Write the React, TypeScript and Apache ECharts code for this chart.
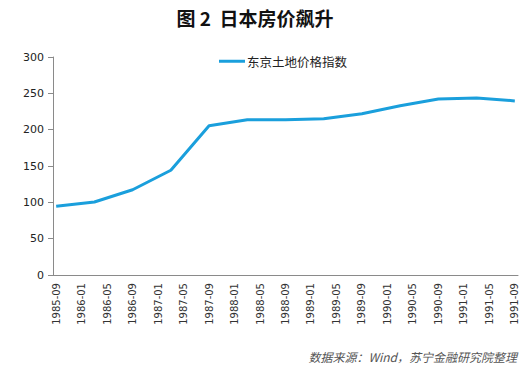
import React, { useEffect, useRef } from "react";
import * as echarts from "echarts";

const startMonth = "1985-09";
const endMonth = "1991-09";
const pointDates = [
  "1985-09", "1986-03", "1986-09", "1987-03", "1987-09", "1988-03", "1988-09",
  "1989-03", "1989-09", "1990-03", "1990-09", "1991-03", "1991-09",
];
const pointValues = [94.5, 100.5, 117.3, 144.1, 205.5, 213.7, 213.7, 215, 221.9, 232.8, 242.3, 243.7, 239.6];
const seriesName = "东京土地价格指数";
const titleText = "图 2\u00a0\u00a0日本房价飙升";
const sourceText = "数据来源：Wind，苏宁金融研究院整理";

function buildMonths(start: string, end: string): string[] {
  const out: string[] = [];
  let [y, m] = start.split("-").map(Number);
  const [ey, em] = end.split("-").map(Number);
  while (y < ey || (y === ey && m <= em)) {
    out.push(`${y}-${String(m).padStart(2, "0")}`);
    m++;
    if (m > 12) { m = 1; y++; }
  }
  return out;
}

export default function App() {
  const ref = useRef<HTMLDivElement>(null);
  useEffect(() => {
    if (!ref.current) return;
    const chart = echarts.init(ref.current, undefined, { renderer: "svg" });
    const months = buildMonths(startMonth, endMonth);
    const data = pointDates.map((d, i) => [d, pointValues[i]]);
    const labelFont = "'DejaVu Sans', Verdana, sans-serif";
    chart.setOption({
      animation: false,
      backgroundColor: "#ffffff",
      title: [
        {
          text: titleText,
          left: 250,
          textAlign: "center",
          top: 3,
          textStyle: { fontSize: 19, fontWeight: "bold", color: "#111", fontFamily: "'Noto Sans CJK SC', sans-serif" },
        },
        {
          text: sourceText,
          right: 9,
          top: 345,
          textStyle: { fontSize: 12, fontWeight: "normal", fontStyle: "italic", color: "#555", fontFamily: "'Noto Sans CJK SC', sans-serif" },
        },
      ],
      legend: {
        left: 214,
        top: 50,
        itemWidth: 26,
        itemHeight: 3,
        itemGap: 4,
        icon: "rect",
        data: [{ name: seriesName, icon: "rect" }],
        textStyle: { fontSize: 12.5, color: "#222", fontFamily: "'Noto Sans CJK SC', sans-serif", padding: [0, 0, 0, -3] },
      },
      grid: { left: 53, right: 13, top: 57, bottom: 90, containLabel: false },
      xAxis: {
        type: "category",
        data: months,
        boundaryGap: true,
        axisLine: { lineStyle: { color: "#8a8a8a", width: 1 } },
        axisTick: { interval: 3, length: 5, lineStyle: { color: "#8a8a8a" } },
        axisLabel: {
          interval: 3,
          rotate: 90,
          fontSize: 10,
          color: "#333",
          fontFamily: labelFont,
          margin: 8,
        },
        splitLine: { show: false },
      },
      yAxis: {
        type: "value",
        min: 0,
        max: 300,
        interval: 50,
        axisLine: { show: true, lineStyle: { color: "#8a8a8a", width: 1 } },
        axisTick: { show: true, length: 5, lineStyle: { color: "#8a8a8a" } },
        axisLabel: { fontSize: 11, color: "#222", fontFamily: labelFont, margin: 9 },
        splitLine: { show: false },
      },
      series: [
        {
          name: seriesName,
          type: "line",
          data,
          connectNulls: true,
          showSymbol: false,
          symbol: "none",
          lineStyle: { color: "#1a9fdc", width: 3 },
          itemStyle: { color: "#1a9fdc" },
        },
      ],
    });
    return () => chart.dispose();
  }, []);
  return <div ref={ref} style={{ width: 531, height: 365, position: "absolute", left: 0, top: 0 }} />;
}
